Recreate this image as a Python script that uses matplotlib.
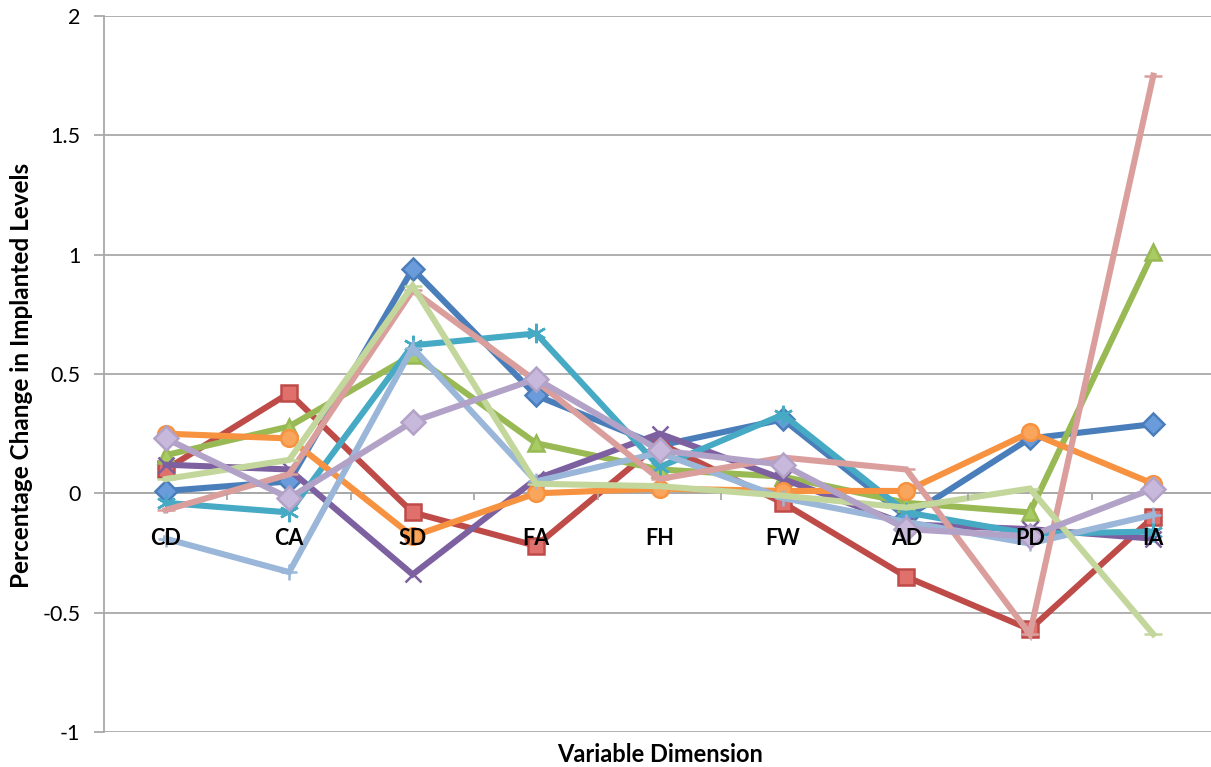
import matplotlib.pyplot as plt

plt.rcParams["font.family"] = ["Lato", "DejaVu Sans"]

dimensions = ["CD", "CA", "SD", "FA", "FH", "FW", "AD", "PD", "IA"]

s1 = [0.01, 0.05, 0.94, 0.41, 0.20, 0.31, -0.10, 0.23, 0.29]
s2 = [0.10, 0.42, -0.08, -0.22, 0.21, -0.04, -0.35, -0.57, -0.10]
s3 = [0.16, 0.28, 0.58, 0.21, 0.10, 0.07, -0.04, -0.08, 1.01]
s4 = [0.12, 0.10, -0.34, 0.06, 0.25, 0.06, -0.13, -0.15, -0.19]
s5 = [-0.04, -0.08, 0.62, 0.67, 0.11, 0.33, -0.08, -0.17, -0.16]
s6 = [0.25, 0.23, -0.18, 0.00, 0.02, 0.01, 0.01, 0.255, 0.04]
s7 = [-0.19, -0.33, 0.61, 0.05, 0.17, -0.02, -0.12, -0.21, -0.09]
s8 = [-0.07, 0.08, 0.85, 0.47, 0.06, 0.15, 0.10, -0.59, 1.75]
s9 = [0.06, 0.14, 0.87, 0.04, 0.03, -0.01, -0.06, 0.02, -0.59]
s10 = [0.23, -0.02, 0.30, 0.48, 0.18, 0.12, -0.15, -0.18, 0.02]

series = [s1, s2, s3, s4, s5, s6, s7, s8, s9, s10]
line_colors = ["#4A7EBB", "#BE4B48", "#98B954", "#7D60A0", "#46AAC5",
               "#F69240", "#9AB6D8", "#DA9F9D", "#C3D69B", "#B3A2C7"]
face_colors = ["#6A9BDB", "#E0706B", "#A8CC62", "#7D60A0", "#46AAC5",
               "#F9A65C", "#9AB6D8", "#DA9F9D", "#C3D69B", "#C8B9DC"]
markers = ["D", "s", "^", "x", (6, 2, 0), "o", "+", "_", "_", "D"]
sizes = [11, 12, 11, 11, 14, 12, 12, 13, 13, 12]

fig = plt.figure(figsize=(12.11, 7.67), dpi=100)
ax = fig.add_axes([104 / 1211, 35 / 767, 1111 / 1211, 716 / 767])

# axis styling first: moving a spine resets the tick objects
for side in ["top", "right"]:
    ax.spines[side].set_visible(False)
ax.spines["bottom"].set_position(("data", 0))
for side in ["bottom", "left"]:
    ax.spines[side].set_color("#A9A9A9")
    ax.spines[side].set_linewidth(1.3)

x = list(range(len(dimensions)))
for vals, lc, fc, m, ms in zip(series, line_colors, face_colors, markers, sizes):
    ax.plot(x, vals, color=lc, lw=4.4, marker=m, markersize=ms,
            markerfacecolor=fc, markeredgecolor=lc, markeredgewidth=1.8,
            solid_joinstyle="miter", zorder=3)

ax.set_xlim(-0.5, 8.5)
ax.set_ylim(-1, 2)
ax.set_yticks([-1, -0.5, 0, 0.5, 1, 1.5, 2])
ax.set_yticklabels(["-1", "-0.5", "0", "0.5", "1", "1.5", "2"])
ax.grid(axis="y", color="#A9A9A9", lw=1.3, zorder=0)

ax.set_xticks(x)
ax.set_xticklabels(dimensions)
ax.set_xticks([i - 0.5 for i in range(len(dimensions) + 1)], minor=True)
ax.tick_params(axis="x", which="major", length=0, pad=25, labelsize=15.5)
for lbl in ax.get_xticklabels():
    lbl.set_fontweight("bold")
ax.tick_params(axis="x", which="minor", length=5, width=1.3, color="#A9A9A9",
               direction="out")
ax.tick_params(axis="y", length=7, width=1.3, color="#A9A9A9", labelsize=15.5,
               pad=10)
# category names sit on top of the lines
ax.xaxis.set_zorder(5)

fig.text(22 / 1211, 1 - 375 / 767, "Percentage Change in Implanted Levels",
         rotation=90, ha="center", va="center", fontsize=17.5, fontweight="bold")
fig.text(660 / 1211, 1 - 754 / 767, "Variable Dimension",
         ha="center", va="center", fontsize=17, fontweight="bold")

fig.savefig("out.png", dpi=100)
